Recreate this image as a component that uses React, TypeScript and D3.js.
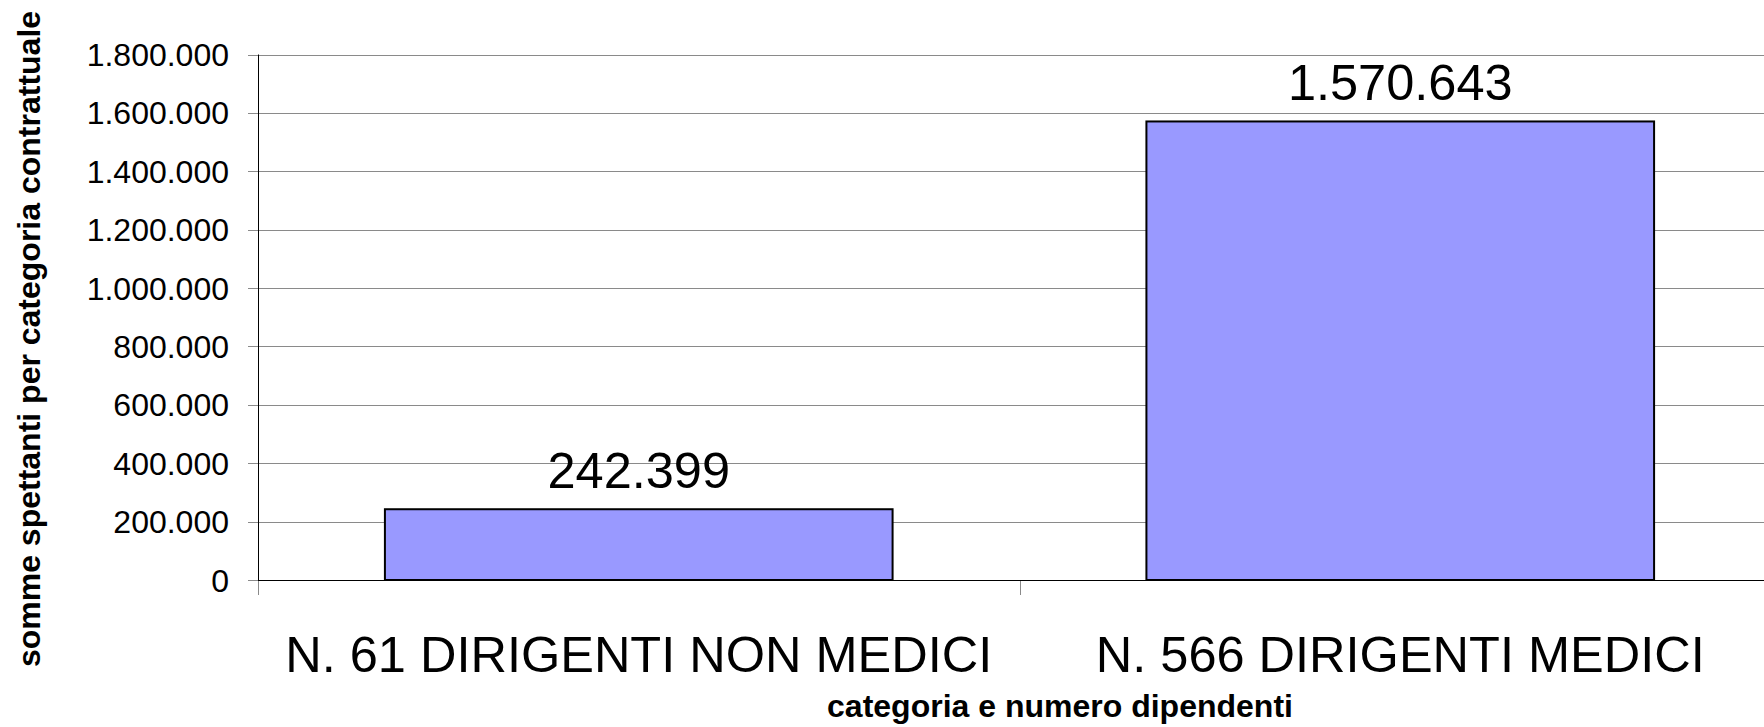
import React, { useRef, useEffect } from 'react';
import * as d3 from 'd3';

const categories = ["N. 61 DIRIGENTI NON MEDICI", "N. 566 DIRIGENTI MEDICI"];
const values = [242399, 1570643];
const yTicks = [0, 200000, 400000, 600000, 800000, 1000000, 1200000, 1400000, 1600000, 1800000];
const yTitle = "somme spettanti per categoria contrattuale";
const xTitle = "categoria e numero dipendenti";

const App: React.FC = () => {
  const svgRef = useRef<SVGSVGElement | null>(null);

  useEffect(() => {
    const svg = d3.select(svgRef.current);
    svg.selectAll("*").remove();

    const width = 1764;
    const height = 727;
    const font = "'Liberation Sans', Arial, Helvetica, sans-serif";
    // plot area runs past the right edge, like the cropped original
    const left = 258;
    const right = 1781;
    const top = 54.5;
    const bottom = 580;

    svg.attr("width", width).attr("height", height)
      .style("font-family", font);

    const it = d3.formatLocale({ decimal: ",", thousands: ".", grouping: [3], currency: ["€", ""] });
    const fmt = it.format(",");

    const x = d3.scaleBand()
      .domain(categories)
      .range([left, right])
      .paddingInner(1 / 3)
      .paddingOuter(1 / 6);

    const y = d3.scaleLinear()
      .domain([0, 1800000])
      .range([bottom, top]);

    // gridlines + left tick marks
    svg.append("g")
      .selectAll("line")
      .data(yTicks.filter(d => d > 0))
      .join("line")
      .attr("x1", left - 10)
      .attr("x2", width)
      .attr("y1", d => Math.round(y(d)) + 0.5)
      .attr("y2", d => Math.round(y(d)) + 0.5)
      .attr("stroke", "#8a8a8a")
      .attr("stroke-width", 1);

    // y tick labels
    svg.append("g")
      .selectAll("text")
      .data(yTicks)
      .join("text")
      .attr("x", 229)
      .attr("y", d => y(d) + 11.5)
      .attr("text-anchor", "end")
      .attr("font-size", 32)
      .attr("fill", "#000")
      .text(d => fmt(d));

    // category tick marks below the axis
    const bounds = [left, left + x.step(), right];
    svg.append("g")
      .selectAll("line")
      .data(bounds)
      .join("line")
      .attr("x1", d => Math.round(d) + 0.5)
      .attr("x2", d => Math.round(d) + 0.5)
      .attr("y1", bottom)
      .attr("y2", bottom + 15)
      .attr("stroke", "#8a8a8a");

    // bars
    svg.append("g")
      .selectAll("rect")
      .data(categories)
      .join("rect")
      .attr("x", d => x(d)!)
      .attr("y", (d, i) => y(values[i]))
      .attr("width", x.bandwidth())
      .attr("height", (d, i) => bottom - y(values[i]))
      .attr("fill", "#9999FF")
      .attr("stroke", "#000")
      .attr("stroke-width", 2);

    // axes lines
    svg.append("line")
      .attr("x1", left - 10).attr("x2", left)
      .attr("y1", bottom + 0.5).attr("y2", bottom + 0.5)
      .attr("stroke", "#8a8a8a");
    svg.append("line")
      .attr("x1", left).attr("x2", width)
      .attr("y1", bottom + 0.5).attr("y2", bottom + 0.5)
      .attr("stroke", "#000");
    svg.append("line")
      .attr("x1", left + 0.5).attr("x2", left + 0.5)
      .attr("y1", top).attr("y2", bottom)
      .attr("stroke", "#000");

    // value labels
    svg.append("g")
      .selectAll("text")
      .data(categories)
      .join("text")
      .attr("x", d => x(d)! + x.bandwidth() / 2)
      .attr("y", (d, i) => y(values[i]) - 21.5)
      .attr("text-anchor", "middle")
      .attr("font-size", 50.5)
      .attr("fill", "#000")
      .text((d, i) => fmt(values[i]));

    // category labels
    svg.append("g")
      .selectAll("text")
      .data(categories)
      .join("text")
      .attr("x", d => x(d)! + x.bandwidth() / 2)
      .attr("y", 671.5)
      .attr("text-anchor", "middle")
      .attr("font-size", 50.5)
      .attr("fill", "#000")
      .text(d => d);

    // axis titles
    svg.append("text")
      .attr("x", 1060)
      .attr("y", 716.5)
      .attr("text-anchor", "middle")
      .attr("font-weight", "bold")
      .attr("font-size", 32)
      .text(xTitle);

    svg.append("text")
      .attr("transform", "translate(40,339) rotate(-90)")
      .attr("text-anchor", "middle")
      .attr("font-weight", "bold")
      .attr("font-size", 32)
      .text(yTitle);
  }, []);

  return (
    <svg ref={svgRef} style={{ position: "absolute", left: 0, top: 0, background: "#fff" }}></svg>
  );
};

export default App;
